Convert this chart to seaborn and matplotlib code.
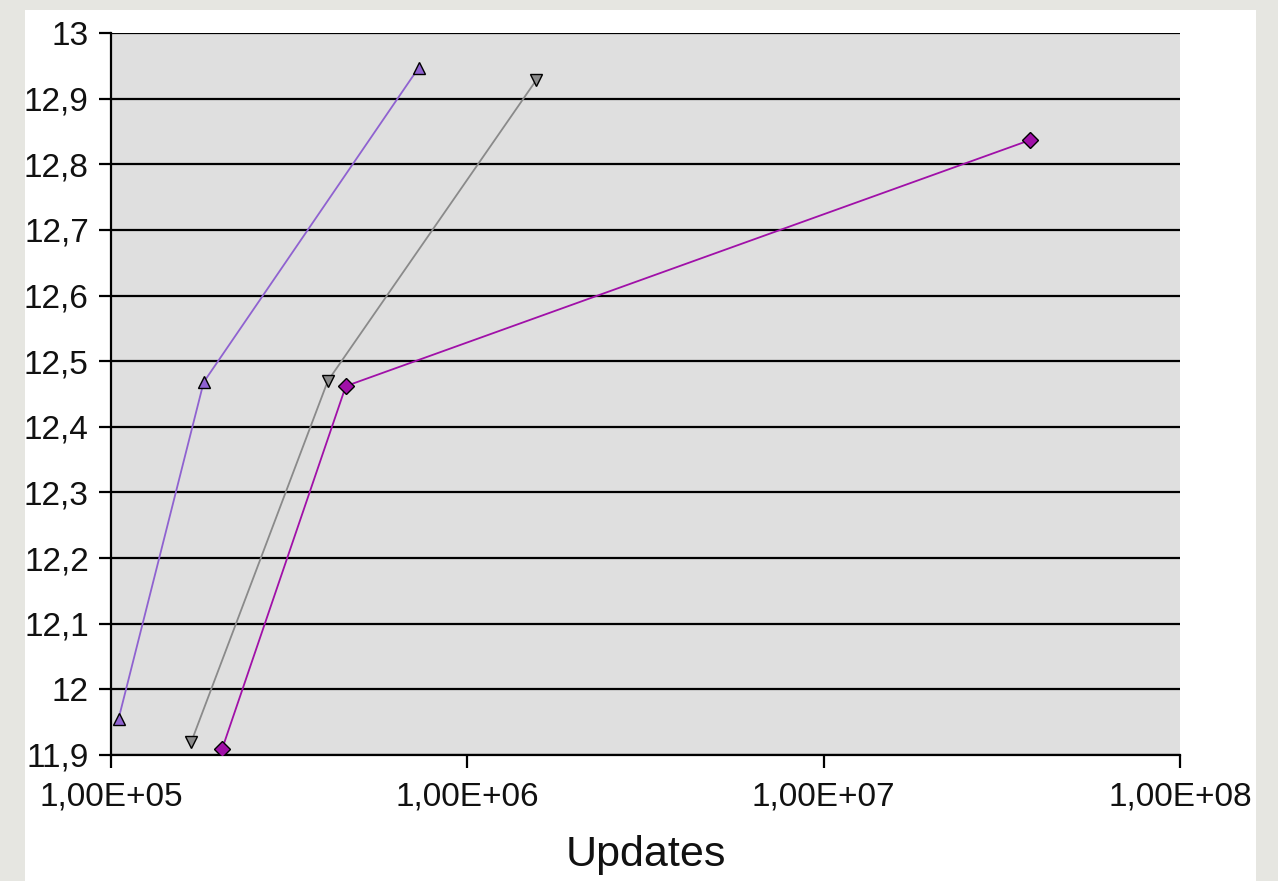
import matplotlib
matplotlib.use("Agg")
import matplotlib.pyplot as plt
import matplotlib.ticker as mticker
from matplotlib.patches import Rectangle
import seaborn as sns
import pandas as pd

sns.set_style("white")
plt.rcParams["font.family"] = ["Liberation Sans", "DejaVu Sans"]

# Measured series: number of updates vs. score
series_names = ["A", "B", "C"]
updates_a = [1.05e5, 1.82e5, 7.3e5]
score_a = [11.955, 12.468, 12.947]
updates_b = [1.68e5, 4.06e5, 1.56e6]
score_b = [11.920, 12.470, 12.928]
updates_c = [2.05e5, 4.56e5, 3.8e7]
score_c = [11.909, 12.462, 12.837]

y_ticks = [11.9, 12.0, 12.1, 12.2, 12.3, 12.4, 12.5, 12.6, 12.7, 12.8, 12.9, 13.0]
y_tick_labels = ["11,9", "12", "12,1", "12,2", "12,3", "12,4", "12,5",
                 "12,6", "12,7", "12,8", "12,9", "13"]
x_ticks = [1e5, 1e6, 1e7, 1e8]
x_tick_labels = ["1,00E+05", "1,00E+06", "1,00E+07", "1,00E+08"]

df = pd.concat([
    pd.DataFrame({"updates": updates_a, "score": score_a, "series": "A"}),
    pd.DataFrame({"updates": updates_b, "score": score_b, "series": "B"}),
    pd.DataFrame({"updates": updates_c, "score": score_c, "series": "C"}),
], ignore_index=True)

palette = {"A": "#8f62d0", "B": "#8a8a8a", "C": "#a010a8"}
markers = {"A": "^", "B": "v", "C": "D"}

fig = plt.figure(figsize=(12.78, 8.81), dpi=100)
fig.patch.set_facecolor("#e6e6e1")
# white panel behind the chart
fig.add_artist(Rectangle((25 / 1278, 0), (1256 - 25) / 1278, (881 - 10) / 881,
                         transform=fig.transFigure, facecolor="white",
                         edgecolor="none", zorder=0))

ax = fig.add_axes([111 / 1278, 1 - 755 / 881, (1180 - 111) / 1278, (755 - 33) / 881])
ax.set_facecolor("#dfdfdf")

sns.lineplot(data=df, x="updates", y="score", hue="series", style="series",
             palette=palette, markers=markers, dashes=False, sort=False,
             linewidth=1.3, markersize=8, markeredgecolor="black",
             markeredgewidth=1.0, legend=False, ax=ax, zorder=3)

ax.set_xscale("log")
ax.set_xlim(1e5, 1e8)
ax.set_ylim(11.9, 13.0)
ax.set_xticks(x_ticks)
ax.set_xticklabels(x_tick_labels)
ax.xaxis.set_minor_locator(mticker.NullLocator())
ax.set_yticks(y_ticks)
ax.set_yticklabels(y_tick_labels)

ax.grid(axis="y", color="black", linewidth=1.6)
ax.grid(axis="x", visible=False)
ax.set_axisbelow(True)

for side in ("top", "right"):
    ax.spines[side].set_visible(False)
for side in ("left", "bottom"):
    ax.spines[side].set_color("black")
    ax.spines[side].set_linewidth(1.6)

ax.tick_params(axis="both", which="major", direction="out", length=9,
               width=1.6, color="black", labelsize=24, labelcolor="#111111",
               bottom=True, left=True)
ax.tick_params(axis="y", pad=7)
ax.tick_params(axis="x", pad=10)

ax.set_xlabel("Updates", fontsize=31, color="#111111", labelpad=16)
ax.set_ylabel("")

fig.savefig("out.png", dpi=100, facecolor=fig.get_facecolor())
